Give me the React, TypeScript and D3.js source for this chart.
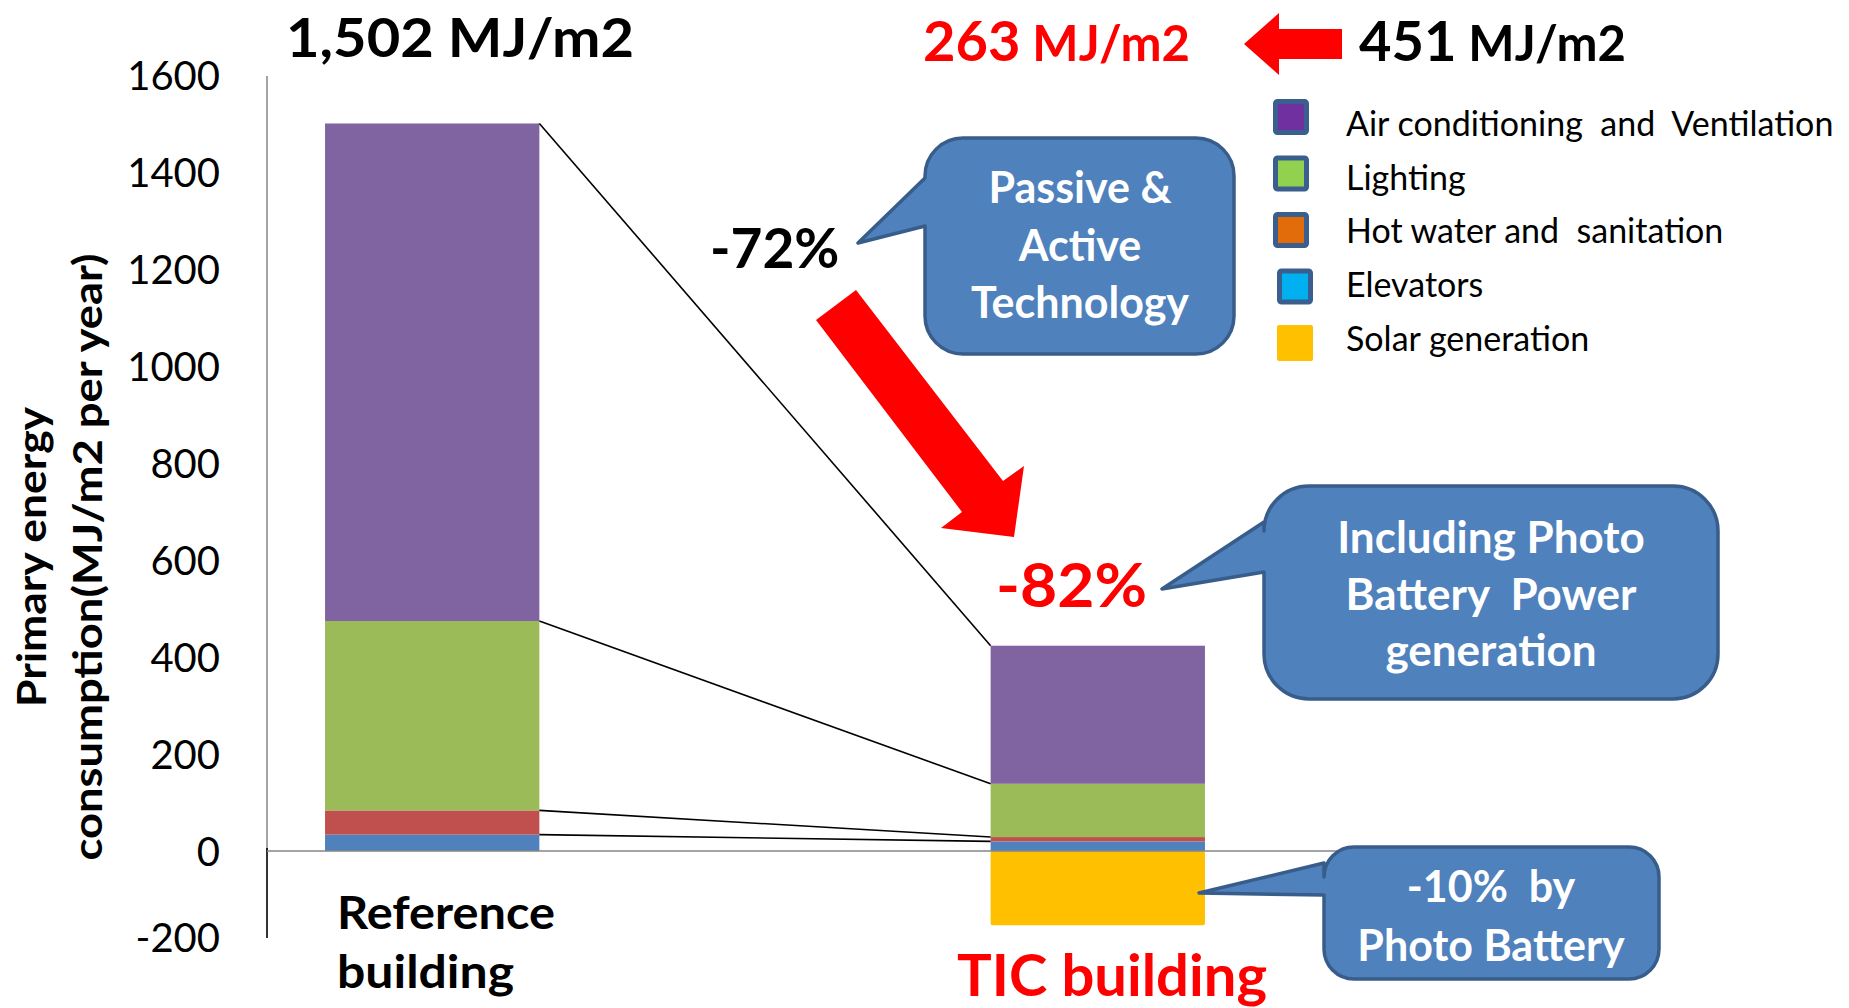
import React from 'react';
import * as d3 from 'd3';

const categories = ['Reference building', 'TIC building'];
const seriesNames = ['Elevators', 'Hot water and sanitation', 'Lighting', 'Air conditioning and Ventilation'];
const elevators = [34, 20];
const hotWater = [50, 9];
const lighting = [391, 110];
const airConditioning = [1027, 285];
const solarGeneration = [0, -153];
const yTicks = [0, 200, 400, 600, 800, 1000, 1200, 1400, 1600];
const negativeTick = -200;
const barColors = ['#4f81bd', '#c0504d', '#9bbb59', '#8064a2'];
const solarColor = '#ffc000';
const legendNames = ['Air conditioning  and  Ventilation', 'Lighting', 'Hot water and  sanitation', 'Elevators', 'Solar generation'];
const legendColors = ['#7030a0', '#92d050', '#e36c0a', '#00b0f0', '#ffc000'];

const FONT = "Lato, 'Open Sans', sans-serif";
const W = 1849;
const H = 1008;

function calloutPath(x0: number, y0: number, x1: number, y1: number, r: number, ya: number, yb: number, tx: number, ty: number) {
  return `M${x0 + r},${y0} H${x1 - r} A${r},${r} 0 0 1 ${x1},${y0 + r} V${y1 - r} A${r},${r} 0 0 1 ${x1 - r},${y1} H${x0 + r} A${r},${r} 0 0 1 ${x0},${y1 - r} V${yb} L${tx},${ty} L${x0},${ya} V${y0 + r} A${r},${r} 0 0 1 ${x0 + r},${y0} Z`;
}

const pre = { whiteSpace: 'pre' as const };

export default function App() {
  const y = d3.scaleLinear().domain([-200, 1600]).range([948, 76]);
  // the hand-drawn negative part of the axis in the original is a bit compressed
  const yNegLabel = d3.scaleLinear().domain([-200, 0]).range([938, y(0)]);
  const x = d3.scaleBand<string>().domain(categories).range([268, 1262]).paddingInner(0.678).paddingOuter(0.0857);
  const bw = x.bandwidth();

  const rows = categories.map((c, i) => ({
    category: c,
    [seriesNames[0]]: elevators[i],
    [seriesNames[1]]: hotWater[i],
    [seriesNames[2]]: lighting[i],
    [seriesNames[3]]: airConditioning[i],
  }));
  const stacked = d3.stack<any>().keys(seriesNames)(rows);

  const refX = x(categories[0])!;
  const ticX = x(categories[1])!;

  const calloutFill = '#4f81bd';
  const calloutStroke = '#385d8a';

  return (
    <svg width={W} height={H} style={{ position: 'absolute', left: 0, top: 0, background: '#fff' }} fontFamily={FONT}>
      <rect x={0} y={0} width={W} height={H} fill="#fff" />

      {/* axis */}
      <line x1={267} x2={267} y1={y(1600)} y2={y(0)} stroke="#868686" strokeWidth={1.5} />
      <line x1={267} x2={267} y1={y(0) - 3} y2={yNegLabel(negativeTick)} stroke="#000" strokeWidth={1.6} />

      {/* tick labels */}
      {yTicks.map((t) => (
        <text key={t} x={220} y={y(t)} dy="0.36em" textAnchor="end" fontSize={40} fill="#000">
          {t}
        </text>
      ))}
      <text x={220} y={yNegLabel(negativeTick)} dy="0.36em" textAnchor="end" fontSize={40} fill="#000">
        {negativeTick}
      </text>

      {/* y axis title */}
      <g transform={`translate(46,557) rotate(-90)`}>
        <text x={0} y={0} textAnchor="middle" fontSize={40} fontWeight="bold" textLength={300} lengthAdjust="spacingAndGlyphs">Primary energy</text>
      </g>
      <g transform={`translate(102,557) rotate(-90)`}>
        <text x={0} y={0} textAnchor="middle" fontSize={40} fontWeight="bold" textLength={607} lengthAdjust="spacingAndGlyphs">consumption(MJ/m2 per year)</text>
      </g>

      {/* stacked bars */}
      {stacked.map((layer, k) => (
        <g key={layer.key} fill={barColors[k]}>
          {layer.map((d, i) => (
            <rect key={i} x={x(categories[i])} y={y(d[1])} width={bw} height={Math.max(0, y(d[0]) - y(d[1]))} />
          ))}
        </g>
      ))}
      {/* solar */}
      {solarGeneration.map((v, i) =>
        v < 0 ? (
          <rect key={i} x={x(categories[i])} y={y(0)} width={bw} height={y(v) - y(0)} fill={solarColor} rx={2} />
        ) : null
      )}

      {/* connector lines */}
      {stacked.map((layer, k) => (
        <line key={k} x1={refX + bw} y1={y(layer[0][1])} x2={ticX} y2={y(layer[1][1])} stroke="#000" strokeWidth={1.6} />
      ))}

      {/* zero line */}
      <line x1={267} x2={1400} y1={y(0)} y2={y(0)} stroke="#868686" strokeWidth={1.5} />

      {/* category labels */}
      <text x={337} y={929} fontSize={46} fontWeight="bold" fill="#000" textLength={218} lengthAdjust="spacingAndGlyphs">Reference</text>
      <text x={337} y={988} fontSize={46} fontWeight="bold" fill="#000" textLength={177} lengthAdjust="spacingAndGlyphs">building</text>
      <text x={957} y={996} fontSize={58} fontWeight="bold" fill="#ff0000" textLength={310} lengthAdjust="spacingAndGlyphs">TIC building</text>

      {/* top titles */}
      <text x={286} y={57} fontSize={54} fontWeight="bold" fill="#000" textLength={348} lengthAdjust="spacingAndGlyphs">1,502 MJ/m2</text>
      <text x={923} y={61} fontWeight="bold" fill="#ff0000">
        <tspan fontSize={56}>263</tspan>
        <tspan fontSize={49}> MJ/m2</tspan>
      </text>
      <text x={1359} y={61} fontWeight="bold" fill="#000">
        <tspan fontSize={56}>451</tspan>
        <tspan fontSize={49}> MJ/m2</tspan>
      </text>

      {/* small left arrow */}
      <polygon points="1244,44 1279,13 1279,29 1342,29 1342,59 1279,59 1279,75" fill="#ff0000" />

      {/* big diagonal arrow */}
      <polygon points="816,320 962,512 941,528 1014,537 1024,466 1003,481 856,290" fill="#ff0000" />

      {/* percent labels */}
      <text x={710} y={268} fontSize={55} fontWeight="bold" fill="#000">-72%</text>
      <text x={996} y={607} fontSize={62} fontWeight="bold" fill="#ff0000" textLength={151} lengthAdjust="spacingAndGlyphs">-82%</text>

      {/* callout 1 */}
      <path d={calloutPath(925, 138, 1234, 354, 38, 178, 226, 858, 243)} fill={calloutFill} stroke={calloutStroke} strokeWidth={3.5} strokeLinejoin="round" />
      <g fill="#fff" fontWeight="bold" fontSize={43} textAnchor="middle">
        <text x={1080} y={203}>Passive &amp;</text>
        <text x={1080} y={261}>Active</text>
        <text x={1080} y={318}>Technology</text>
      </g>

      {/* callout 2 */}
      <path d={calloutPath(1264, 486, 1718, 699, 45, 522, 572, 1162, 589)} fill={calloutFill} stroke={calloutStroke} strokeWidth={3.5} strokeLinejoin="round" />
      <g fill="#fff" fontWeight="bold" fontSize={44} textAnchor="middle">
        <text x={1491} y={553} style={pre}>Including Photo</text>
        <text x={1491} y={610} style={pre}>{'Battery  Power'}</text>
        <text x={1491} y={666} style={pre}>generation</text>
      </g>

      {/* callout 3 */}
      <path d={calloutPath(1324, 847, 1659, 979, 30, 863, 895, 1199, 893)} fill={calloutFill} stroke={calloutStroke} strokeWidth={3.5} strokeLinejoin="round" />
      <g fill="#fff" fontWeight="bold" fontSize={43} textAnchor="middle">
        <text x={1491} y={902} style={pre}>{'-10%  by'}</text>
        <text x={1491} y={961} style={pre}>Photo Battery</text>
      </g>

      {/* legend */}
      {legendNames.map((name, i) => {
        const cy = 117 + i * 56.5;
        const isSolar = i === legendNames.length - 1;
        const sx = i >= 3 ? 1277 : 1273;
        return (
          <g key={name}>
            {isSolar ? (
              <rect x={sx} y={cy - 18} width={36} height={36} fill={legendColors[i]} rx={2} />
            ) : (
              <rect x={sx + 2.5} y={cy - 15.5} width={31} height={31} fill={legendColors[i]} stroke="#3a5f8f" strokeWidth={5} rx={2} />
            )}
            <text x={1346} y={136 + i * 53.7} fontSize={34} fill="#000" style={pre}>{name}</text>
          </g>
        );
      })}
    </svg>
  );
}
